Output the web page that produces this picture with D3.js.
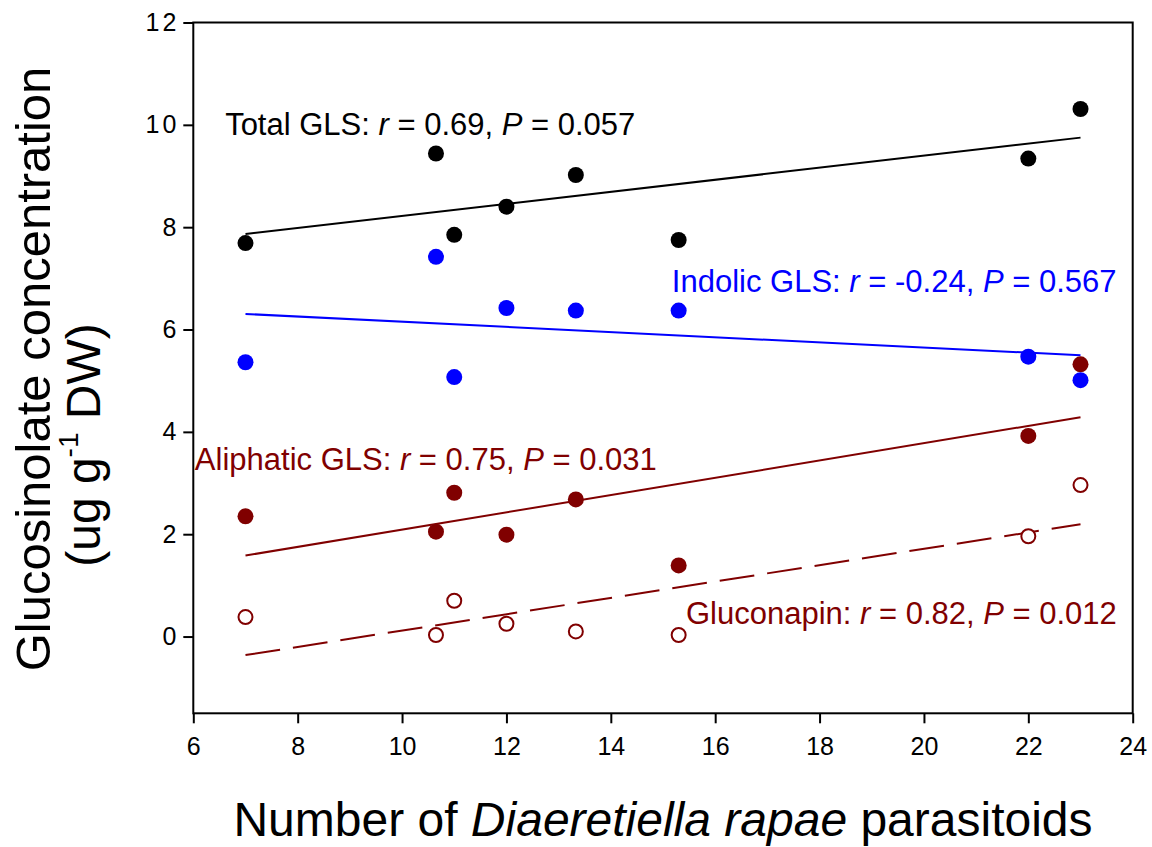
<!DOCTYPE html>
<html>
<head>
<meta charset="utf-8">
<script src="https://cdn.jsdelivr.net/npm/d3@7"></script>
<style>
  body { margin: 0; background: #fff; }
  svg { font-family: Arial, "Liberation Sans", sans-serif; }
</style>
</head>
<body>
<div id="chart"></div>
<script>
// parasitoid counts (x) shared by all series
var parasitoids = [7, 10.65, 11, 12, 13.33, 15.3, 22, 23];
var totalGLS = [7.69, 9.44, 7.85, 8.40, 9.02, 7.75, 9.34, 10.31];
var indolicGLS = [5.36, 7.42, 5.07, 6.42, 6.37, 6.37, 5.47, 5.01];
var aliphaticGLS = [2.35, 2.05, 2.81, 1.99, 2.68, 1.39, 3.92, 5.32];
var gluconapin = [0.38, 0.03, 0.70, 0.25, 0.10, 0.03, 1.96, 2.96];

var xTicks = [6, 8, 10, 12, 14, 16, 18, 20, 22, 24];
var yTicks = [0, 2, 4, 6, 8, 10, 12];

var width = 1152, height = 847;
var margin = { top: 22.5, right: 19.3, bottom: 133.7, left: 193.3 };

var svg = d3.select('#chart').append('svg').attr('width', width).attr('height', height);

var x = d3.scaleLinear().domain([6, 24]).range([margin.left, width - margin.right]);
var y = d3.scaleLinear().domain([-1.5, 12]).range([height - margin.bottom, margin.top]);

// least squares fit
function fit(xs, ys) {
    var mx = d3.mean(xs), my = d3.mean(ys);
    var sxy = d3.sum(xs, function (d, i) { return (d - mx) * (ys[i] - my); });
    var sxx = d3.sum(xs, function (d) { return (d - mx) * (d - mx); });
    var b = sxy / sxx;
    var x0 = d3.min(xs), x1 = d3.max(xs);
    return [[x0, my + b * (x0 - mx)], [x1, my + b * (x1 - mx)]];
}

var series = [
    { values: totalGLS, color: '#000000', open: false, dash: null },
    { values: indolicGLS, color: '#0000ff', open: false, dash: null },
    { values: aliphaticGLS, color: '#800000', open: false, dash: null },
    { values: gluconapin, color: '#800000', open: true, dash: '35,13' }
];

var line = d3.line().x(function (d) { return x(d[0]); }).y(function (d) { return y(d[1]); });

// regression lines
series.forEach(function (s) {
    svg.append('path')
       .attr('d', line(fit(parasitoids, s.values)))
       .attr('fill', 'none')
       .attr('stroke', s.color)
       .attr('stroke-width', 2)
       .attr('stroke-dasharray', s.dash);
});

// points (reverse order so black sits on top)
series.slice().reverse().forEach(function (s) {
    svg.append('g').selectAll('circle')
       .data(s.values)
       .enter()
       .append('circle')
       .attr('cx', function (d, i) { return x(parasitoids[i]); })
       .attr('cy', function (d) { return y(d); })
       .attr('r', s.open ? 7 : 8)
       .attr('fill', s.open ? '#fff' : s.color)
       .attr('stroke', s.open ? s.color : 'none')
       .attr('stroke-width', 2);
});

// axes
var xAxis = svg.append('g')
    .attr('transform', 'translate(0,' + y(-1.5) + ')')
    .call(d3.axisBottom(x).tickValues(xTicks).tickSize(10).tickPadding(14));
var yAxis = svg.append('g')
    .attr('transform', 'translate(' + x(6) + ',0)')
    .call(d3.axisLeft(y).tickValues(yTicks).tickSize(10).tickPadding(4));

[xAxis, yAxis].forEach(function (a) {
    a.select('.domain').remove();
    a.selectAll('.tick line').attr('stroke-width', 2);
    a.selectAll('.tick text').attr('font-size', 25).attr('font-family', 'Arial, "Liberation Sans", sans-serif').attr('fill', '#000');
});
yAxis.selectAll('.tick text').attr('letter-spacing', 3);

// frame
svg.append('rect')
   .attr('x', x(6)).attr('y', y(12))
   .attr('width', x(24) - x(6)).attr('height', y(-1.5) - y(12))
   .attr('fill', 'none').attr('stroke', '#000').attr('stroke-width', 2);

// annotations
var notes = [
    { name: 'Total GLS: ', r: '0.69', p: '0.057', color: '#000000', at: [6.61, 9.80] },
    { name: 'Indolic GLS: ', r: '-0.24', p: '0.567', color: '#0000ff', at: [15.17, 6.73] },
    { name: 'Aliphatic GLS: ', r: '0.75', p: '0.031', color: '#800000', at: [6.03, 3.25] },
    { name: 'Gluconapin: ', r: '0.82', p: '0.012', color: '#800000', at: [15.44, 0.24] }
];

notes.forEach(function (n) {
    var t = svg.append('text')
       .attr('x', x(n.at[0])).attr('y', y(n.at[1]))
       .attr('font-size', 31).attr('fill', n.color);
    t.append('tspan').text(n.name);
    t.append('tspan').attr('font-style', 'italic').text('r');
    t.append('tspan').text(' = ' + n.r + ', ');
    t.append('tspan').attr('font-style', 'italic').text('P');
    t.append('tspan').text(' = ' + n.p);
});

// x axis title
var xt = svg.append('text')
   .attr('x', (x(6) + x(24)) / 2).attr('y', 836)
   .attr('text-anchor', 'middle').attr('font-size', 48);
xt.append('tspan').text('Number of ');
xt.append('tspan').attr('font-style', 'italic').text('Diaeretiella rapae');
xt.append('tspan').text(' parasitoids');

// y axis title
svg.append('text')
   .attr('transform', 'translate(50,369) rotate(-90)')
   .attr('text-anchor', 'middle').attr('font-size', 49)
   .text('Glucosinolate concentration');
var yt = svg.append('text')
   .attr('transform', 'translate(100,445) rotate(-90)')
   .attr('text-anchor', 'middle').attr('font-size', 48);
yt.append('tspan').text('(ug g');
yt.append('tspan').attr('font-size', 28).attr('dy', -22).text('-1');
yt.append('tspan').attr('dy', 22).text(' DW)');
</script>
</body>
</html>
